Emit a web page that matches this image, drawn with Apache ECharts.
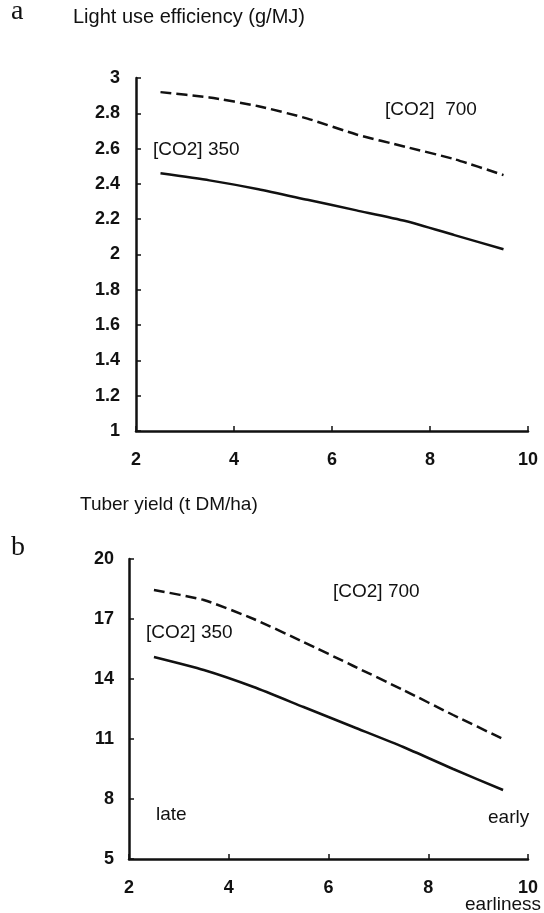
<!DOCTYPE html>
<html>
<head>
  <meta charset="utf-8">
  <title>Light use efficiency and tuber yield vs earliness</title>
</head>
<body style="margin:0;background:#fff;">
  <div id="main" style="width:544px;height:913px;"></div>
  <script type="text/javascript" src="https://cdn.jsdelivr.net/npm/echarts@6/dist/echarts.min.js"></script>
  <script type="text/javascript">
    // earliness classes (x axis)
    const earliness = [2.5, 3.5, 4.5, 5.5, 6.5, 7.5, 8.5, 9.5];
    // a: light use efficiency (g/MJ)
    const lue350 = [2.46, 2.42, 2.37, 2.31, 2.25, 2.19, 2.11, 2.03];
    const lue700 = [2.92, 2.89, 2.84, 2.77, 2.68, 2.61, 2.54, 2.45];
    // b: tuber yield (t DM/ha)
    const yield350 = [15.1, 14.45, 13.6, 12.6, 11.6, 10.6, 9.5, 8.45];
    const yield700 = [18.45, 17.95, 17.0, 15.85, 14.65, 13.45, 12.2, 11.0];

    const pairs = (ys) => earliness.map((x, i) => [x, ys[i]]);

    const tickFont = { color: '#111', fontSize: 18, fontWeight: 'bold', fontFamily: 'Liberation Sans' };
    const axisLine = { show: true, lineStyle: { color: '#111', width: 2.5 } };
    const axisTick = { show: true, inside: true, length: 5, lineStyle: { color: '#111', width: 1.5 } };

    function xAxis(grid) {
      return {
        type: 'value', gridIndex: grid, min: 2, max: 10, interval: 2,
        axisLine: axisLine, axisTick: axisTick, splitLine: { show: false },
        axisLabel: Object.assign({ margin: 20 }, tickFont)
      };
    }

    function label(text, x, y, size, family) {
      return {
        type: 'text', x: x, y: y,
        style: {
          text: text, fill: '#111', align: 'left', verticalAlign: 'middle',
          font: size + 'px ' + (family || '"Liberation Sans"')
        }
      };
    }

    const solid = { color: '#111', width: 2.5 };
    const dashed = { color: '#111', width: 2.5, type: [11, 5] };

    const option = {
      animation: false,
      backgroundColor: '#fff',
      grid: [
        { left: 136, right: 16, top: 78, height: 353 },
        { left: 129, right: 16, top: 559, height: 300 }
      ],
      xAxis: [xAxis(0), xAxis(1)],
      yAxis: [
        {
          type: 'value', gridIndex: 0, min: 1, max: 3, interval: 0.2,
          axisLine: axisLine, axisTick: axisTick, splitLine: { show: false },
          axisLabel: Object.assign({ margin: 16 }, tickFont)
        },
        {
          type: 'value', gridIndex: 1, min: 5, max: 20, interval: 3,
          axisLine: axisLine, axisTick: axisTick, splitLine: { show: false },
          axisLabel: Object.assign({ margin: 15 }, tickFont)
        }
      ],
      series: [
        { name: 'LUE 350', type: 'line', xAxisIndex: 0, yAxisIndex: 0, data: pairs(lue350), showSymbol: false, smooth: 0.2, lineStyle: solid },
        { name: 'LUE 700', type: 'line', xAxisIndex: 0, yAxisIndex: 0, data: pairs(lue700), showSymbol: false, smooth: 0.2, lineStyle: dashed },
        { name: 'Yield 350', type: 'line', xAxisIndex: 1, yAxisIndex: 1, data: pairs(yield350), showSymbol: false, smooth: 0.2, lineStyle: solid },
        { name: 'Yield 700', type: 'line', xAxisIndex: 1, yAxisIndex: 1, data: pairs(yield700), showSymbol: false, smooth: 0.2, lineStyle: dashed }
      ],
      graphic: [
        label('a', 11, 12, 28, '"Liberation Serif"'),
        label('Light use efficiency (g/MJ)', 73, 17, 20),
        label('[CO2]  700', 385, 110, 19),
        label('[CO2] 350', 153, 150, 19),
        label('Tuber yield (t DM/ha)', 80, 505, 19),
        label('b', 11, 548, 28, '"Liberation Serif"'),
        label('[CO2] 700', 333, 592, 19),
        label('[CO2] 350', 146, 633, 19),
        label('late', 156, 815, 19),
        label('early', 488, 818, 19),
        label('earliness', 465, 905, 19)
      ]
    };

    var myChart = echarts.init(document.getElementById('main'));
    myChart.setOption(option);
  </script>
</body>
</html>
